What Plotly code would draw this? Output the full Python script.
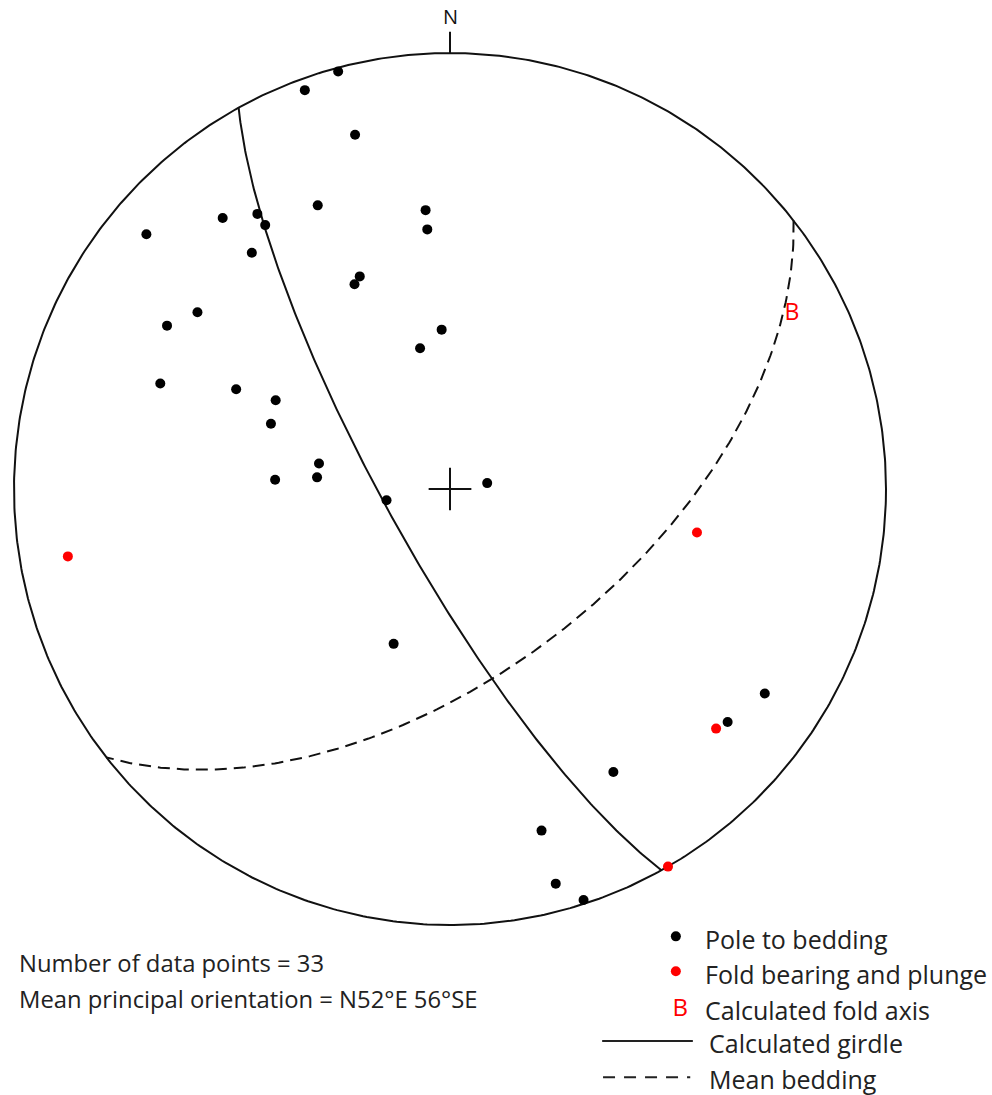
import numpy as np
import plotly.graph_objects as go

# Poles to bedding (lower hemisphere), trend / plunge in degrees
pole_trend = [345, 340, 345, 310, 320, 325, 325, 320, 335, 355, 355, 337, 335, 300, 305, 348, 357,
              290, 295, 297, 290, 281, 275, 273, 260, 81, 200, 123, 130, 150, 165, 165, 162]
pole_plunge = [1, 3, 17, 10, 20, 24, 27, 30, 29, 36, 40, 46, 47, 26, 30, 63, 60,
               30, 45, 53, 54, 65, 65, 57, 78, 83, 59, 15, 18, 26, 20, 7, 1]

# Measured fold bearings and plunges
fold_trend = [260, 100, 132, 150]
fold_plunge = [12, 42, 19, 0]

# Calculated fold axis (B)
axis_trend, axis_plunge = 63, 13

# Great circles: dip direction / dip
girdle_dipdir, girdle_dip = 241, 78
bedding_strike, bedding_dip = 52, 56          # N52°E 56°SE
bedding_dipdir = bedding_strike + 90

n_points = len(pole_trend)


def project_line(trend, plunge):
    """Lambert equal-area (Schmidt) projection, lower hemisphere, unit radius."""
    t = np.radians(np.asarray(trend, dtype=float))
    p = np.radians(np.asarray(plunge, dtype=float))
    r = np.sqrt(2) * np.sin((np.pi / 2 - p) / 2)
    return r * np.sin(t), r * np.cos(t)


def great_circle(dipdir, dip, n=241):
    """Trace of a plane as a set of lines (trend/plunge) lying in it."""
    dd = np.radians(dipdir)
    d = np.radians(dip)
    s = dd - np.pi / 2                      # strike direction
    strike_v = np.array([np.cos(s), np.sin(s), 0.0])            # N, E, Down
    dip_v = np.array([np.cos(dd) * np.cos(d), np.sin(dd) * np.cos(d), np.sin(d)])
    a = np.linspace(0, np.pi, n)
    v = np.outer(np.cos(a), strike_v) + np.outer(np.sin(a), dip_v)
    tr = np.degrees(np.arctan2(v[:, 1], v[:, 0]))
    pl = np.degrees(np.arcsin(np.clip(v[:, 2], -1, 1)))
    return project_line(tr, pl)


fig = go.Figure()

# Primitive circle
th = np.linspace(0, 2 * np.pi, 721)
fig.add_trace(go.Scatter(x=np.cos(th), y=np.sin(th), mode="lines",
                         line=dict(color="#111", width=2), hoverinfo="skip"))

# North tick
fig.add_trace(go.Scatter(x=[0, 0], y=[1, 1.049], mode="lines",
                         line=dict(color="#111", width=2), hoverinfo="skip"))

# Centre cross
h = 0.049
fig.add_trace(go.Scatter(x=[-h, h, None, 0, 0], y=[0, 0, None, -h, h], mode="lines",
                         line=dict(color="#111", width=2), hoverinfo="skip"))

# Calculated girdle
gx, gy = great_circle(girdle_dipdir, girdle_dip)
fig.add_trace(go.Scatter(x=gx, y=gy, mode="lines",
                         line=dict(color="#111", width=2), hoverinfo="skip"))

# Mean bedding
bx, by = great_circle(bedding_dipdir, bedding_dip)
fig.add_trace(go.Scatter(x=bx, y=by, mode="lines",
                         line=dict(color="#111", width=2, dash="12px,7px"), hoverinfo="skip"))

# Poles to bedding
px_, py_ = project_line(pole_trend, pole_plunge)
fig.add_trace(go.Scatter(x=px_, y=py_, mode="markers",
                         marker=dict(color="#000", size=10)))

# Fold bearing and plunge
fx, fy = project_line(fold_trend, fold_plunge)
fig.add_trace(go.Scatter(x=fx, y=fy, mode="markers",
                         marker=dict(color="#ff0000", size=10)))

# Calculated fold axis label
ax_, ay_ = project_line([axis_trend], [axis_plunge])
fig.add_trace(go.Scatter(x=ax_, y=ay_, mode="text", text=["B"],
                         textfont=dict(color="#ff0000", size=23, family="Open Sans")))

fig.add_annotation(x=0, y=1.049, text="N", showarrow=False, yanchor="bottom",
                   font=dict(size=20, family="Open Sans", color="#111"))

# Summary text
summary_font = dict(size=23.8, family="Open Sans", color="#222")
fig.add_annotation(x=-0.993, y=-1.088, text=f"Number of data points = {n_points}",
                   showarrow=False, xanchor="left", yanchor="middle", font=summary_font)
fig.add_annotation(x=-0.993, y=-1.169,
                   text=f"Mean principal orientation = N{bedding_strike}°E {bedding_dip}°SE",
                   showarrow=False, xanchor="left", yanchor="middle", font=summary_font)

# Legend (drawn in data units beneath the net)
legend_font = dict(size=25, family="Open Sans", color="#222")
lx_txt = 0.58
rows_y = [-1.032, -1.112, -1.195, -1.270, -1.353]
fig.add_trace(go.Scatter(x=[0.518], y=[rows_y[0] + 0.006], mode="markers",
                         marker=dict(color="#000", size=10), hoverinfo="skip"))
fig.add_trace(go.Scatter(x=[0.518], y=[rows_y[1] + 0.006], mode="markers",
                         marker=dict(color="#ff0000", size=10), hoverinfo="skip"))
fig.add_trace(go.Scatter(x=[0.528], y=[rows_y[2]], mode="text", text=["B"],
                         textfont=dict(color="#ff0000", size=24, family="Open Sans"),
                         hoverinfo="skip"))
fig.add_trace(go.Scatter(x=[0.349, 0.557], y=[rows_y[3] + 0.004] * 2, mode="lines",
                         line=dict(color="#222", width=2), hoverinfo="skip"))
fig.add_trace(go.Scatter(x=[0.351, 0.551], y=[rows_y[4] + 0.004] * 2, mode="lines",
                         line=dict(color="#222", width=2, dash="12px,9px"), hoverinfo="skip"))
legend_labels = ["Pole to bedding", "Fold bearing and plunge", "Calculated fold axis",
                 "Calculated girdle", "Mean bedding"]
legend_x = [lx_txt, lx_txt, lx_txt, 0.59, 0.59]
for lab, yy, xx in zip(legend_labels, rows_y, legend_x):
    fig.add_annotation(x=xx, y=yy, text=lab, showarrow=False, xanchor="left",
                       yanchor="middle", font=legend_font)

R = 436.0
cx, cy = 450.0, 489.0
fig.update_layout(
    width=992, height=1095, autosize=False,
    margin=dict(l=0, r=0, t=0, b=0),
    paper_bgcolor="white", plot_bgcolor="white",
    showlegend=False,
    xaxis=dict(range=[-cx / R, (992 - cx) / R], visible=False, fixedrange=True),
    yaxis=dict(range=[-(1095 - cy) / R, cy / R], visible=False, fixedrange=True),
)
fig.write_html("out.html")
